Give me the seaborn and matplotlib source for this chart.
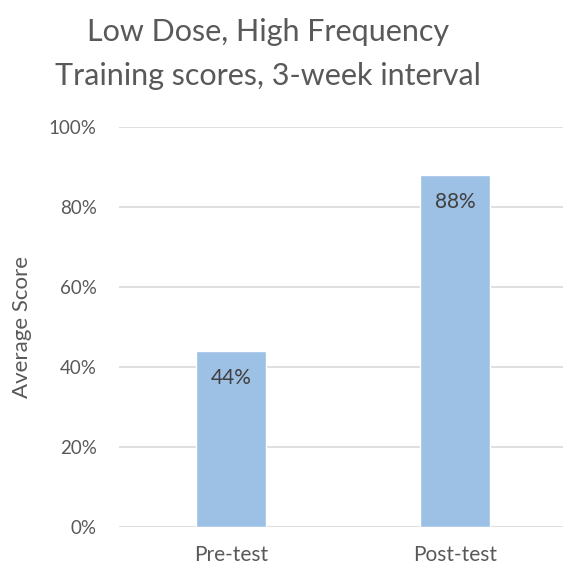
import matplotlib
matplotlib.use("Agg")
import matplotlib.pyplot as plt
import seaborn as sns
from matplotlib.ticker import PercentFormatter

# data
tests = ["Pre-test", "Post-test"]
avg_score = [44, 88]
bar_labels = ["44%", "88%"]

sns.set_theme(style="white")
plt.rcParams["font.family"] = ["Lato", "DejaVu Sans"]

fig = plt.figure(figsize=(5.63, 5.66), dpi=100)
ax = fig.add_axes([119 / 563, 39 / 566, 448 / 563, 400 / 566])

sns.barplot(x=tests, y=avg_score, color="#9DC0E5", saturation=1,
            width=0.31, ax=ax, zorder=3)
ax.bar_label(ax.containers[0], labels=bar_labels, padding=-27,
             fontsize=15, color="#404040")

ax.set_xlim(-0.5, 1.5)
ax.set_ylim(0, 100)
ax.set_yticks(range(0, 101, 20))
ax.yaxis.set_major_formatter(PercentFormatter(decimals=0))
ax.grid(axis="y", color="#D9D9D9", linewidth=1.2, zorder=0)
ax.set_axisbelow(True)
sns.despine(ax=ax, left=True, right=True, top=True, bottom=True)
ax.tick_params(axis="y", length=0, pad=16, labelsize=13.5, labelcolor="#595959")
ax.tick_params(axis="x", length=0, pad=13, labelsize=15, labelcolor="#595959")

ax.set_ylabel("Average Score", fontsize=16, color="#595959", labelpad=12)
fig.text(268 / 563, 1 - 18 / 566,
         "Low Dose, High Frequency\nTraining scores, 3-week interval",
         ha="center", va="top", fontsize=22, color="#595959",
         linespacing=1.7)

fig.savefig("out.png", dpi=100)
